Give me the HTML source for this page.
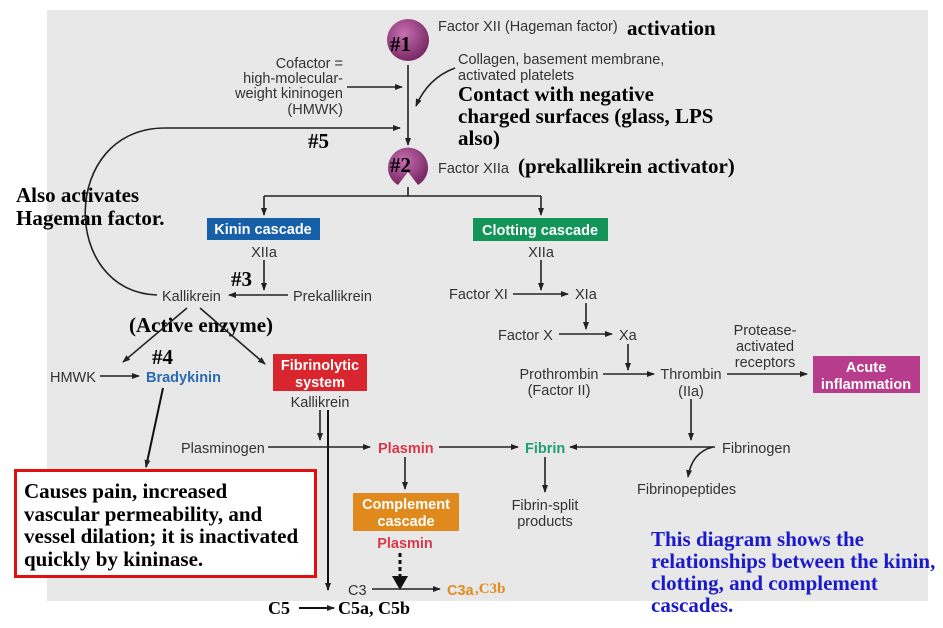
<!DOCTYPE html>
<html><head><meta charset="utf-8"><style>
html,body{margin:0;padding:0;background:#fff;}
svg{display:block;}
.s{font-family:"Liberation Sans",sans-serif;font-size:14.5px;fill:#333;}
.b{font-family:"Liberation Serif",serif;font-weight:bold;font-size:21px;fill:#000;}
.w{font-family:"Liberation Sans",sans-serif;font-weight:bold;font-size:14.5px;fill:#fff;}
.l{stroke:#222;stroke-width:1.6;fill:none;}
</style></head><body>
<svg width="943" height="628" viewBox="0 0 943 628" xmlns="http://www.w3.org/2000/svg">
<defs>
<marker id="a" markerWidth="8" markerHeight="8" refX="7" refY="4" orient="auto" markerUnits="userSpaceOnUse"><path d="M0,1 L8,4 L0,7 Z" fill="#222"/></marker>
<radialGradient id="g" cx="40%" cy="35%" r="65%"><stop offset="0" stop-color="#c76fb0"/><stop offset="1" stop-color="#7a2a66"/></radialGradient>
</defs>
<rect x="47" y="10" width="881" height="591" fill="#e8e8e8"/>
<circle cx="408" cy="40" r="21" fill="url(#g)"/>
<path d="M398,185 A20,20 0 1 1 418,185 L408,172 Z" fill="url(#g)"/>
<text x="390" y="51" class="b">#1</text>
<text x="390" y="172" class="b">#2</text>
<text x="438" y="31" class="s">Factor XII (Hageman factor)</text>
<text x="627" y="35" class="b">activation</text>
<text x="458" y="64" class="s">Collagen, basement membrane,</text>
<text x="458" y="80" class="s">activated platelets</text>
<text x="458" y="101" class="b">Contact with negative</text>
<text x="458" y="123" class="b">charged surfaces (glass, LPS</text>
<text x="458" y="145" class="b">also)</text>
<text x="438" y="173" class="s">Factor XIIa</text>
<text x="518" y="173" class="b">(prekallikrein  activator)</text>
<text x="343" y="68" class="s" text-anchor="end">Cofactor =</text>
<text x="343" y="83" class="s" text-anchor="end">high-molecular-</text>
<text x="343" y="98" class="s" text-anchor="end">weight kininogen</text>
<text x="343" y="114" class="s" text-anchor="end">(HMWK)</text>
<line x1="408" y1="65" x2="408" y2="145" class="l" marker-end="url(#a)"/>
<line x1="347" y1="87" x2="402" y2="87" class="l" marker-end="url(#a)"/>
<path d="M455,68 Q428,78 416,106" class="l" marker-end="url(#a)"/>
<path d="M157,295 C60,292 60,128 165,128 L400,128" class="l" marker-end="url(#a)"/>
<text x="308" y="148" class="b">#5</text>
<text x="16" y="202" class="b">Also activates</text>
<text x="16" y="225" class="b">Hageman factor.</text>
<path d="M408,187 L408,196 M264,196 L541,196" class="l"/>
<line x1="264" y1="196" x2="264" y2="215" class="l" marker-end="url(#a)"/>
<line x1="541" y1="196" x2="541" y2="215" class="l" marker-end="url(#a)"/>
<rect x="207" y="218" width="113" height="22" fill="#1560a8"/>
<text x="263" y="234" class="w" text-anchor="middle">Kinin cascade</text>
<rect x="473" y="218" width="135" height="23" fill="#13955a"/>
<text x="540" y="235" class="w" text-anchor="middle">Clotting cascade</text>
<text x="264" y="257" class="s" text-anchor="middle">XIIa</text>
<line x1="264" y1="260" x2="264" y2="290" class="l" marker-end="url(#a)"/>
<text x="231" y="286" class="b">#3</text>
<text x="162" y="301" class="s">Kallikrein</text>
<text x="293" y="301" class="s">Prekallikrein</text>
<line x1="288" y1="295" x2="229" y2="295" class="l" marker-end="url(#a)"/>
<text x="129" y="332" class="b">(Active enzyme)</text>
<line x1="187" y1="308" x2="123" y2="362" class="l" marker-end="url(#a)"/>
<line x1="200" y1="308" x2="265" y2="364" class="l" marker-end="url(#a)"/>
<text x="152" y="364" class="b">#4</text>
<text x="50" y="382" class="s">HMWK</text>
<line x1="100" y1="376" x2="139" y2="376" class="l" marker-end="url(#a)"/>
<text x="146" y="382" class="s" style="fill:#2a6bb0;font-weight:bold">Bradykinin</text>
<line x1="163" y1="388" x2="146" y2="467" stroke="#111" stroke-width="2" marker-end="url(#a)"/>
<rect x="15.5" y="470.5" width="300" height="106" fill="#fff" stroke="#e01010" stroke-width="3"/>
<text x="24" y="498" class="b">Causes pain, increased</text>
<text x="24" y="521" class="b">vascular permeability, and</text>
<text x="24" y="543" class="b">vessel dilation; it is inactivated</text>
<text x="24" y="566" class="b">quickly by kininase.</text>
<rect x="273" y="354" width="94" height="37" fill="#d9262e"/>
<text x="320" y="370" class="w" text-anchor="middle">Fibrinolytic</text>
<text x="320" y="387" class="w" text-anchor="middle">system</text>
<text x="320" y="407" class="s" text-anchor="middle">Kallikrein</text>
<line x1="320" y1="410" x2="320" y2="440" class="l" marker-end="url(#a)"/>
<line x1="328" y1="410" x2="328" y2="590" stroke="#111" stroke-width="2" marker-end="url(#a)"/>
<text x="181" y="453" class="s">Plasminogen</text>
<line x1="268" y1="447" x2="370" y2="447" class="l" marker-end="url(#a)"/>
<text x="378" y="453" class="s" style="fill:#d8384a;font-weight:bold">Plasmin</text>
<line x1="439" y1="447" x2="518" y2="447" class="l" marker-end="url(#a)"/>
<text x="525" y="453" class="s" style="fill:#1fa070;font-weight:bold">Fibrin</text>
<line x1="715" y1="447" x2="570" y2="447" class="l" marker-end="url(#a)"/>
<text x="722" y="453" class="s">Fibrinogen</text>
<path d="M713,447 Q692,452 688,477" class="l" marker-end="url(#a)"/>
<text x="637" y="494" class="s">Fibrinopeptides</text>
<line x1="405" y1="457" x2="405" y2="489" class="l" marker-end="url(#a)"/>
<rect x="353" y="493" width="106" height="38" fill="#e08a1e"/>
<text x="406" y="509" class="w" text-anchor="middle">Complement</text>
<text x="406" y="526" class="w" text-anchor="middle">cascade</text>
<text x="405" y="548" class="s" text-anchor="middle" style="fill:#d8384a;font-weight:bold">Plasmin</text>
<line x1="400" y1="553" x2="400" y2="578" stroke="#111" stroke-width="3" stroke-dasharray="4,3"/>
<path d="M392,576 L400,590 L408,576 Z" fill="#111"/>
<text x="348" y="595" class="s">C3</text>
<line x1="372" y1="589" x2="440" y2="589" class="l" marker-end="url(#a)"/>
<text x="447" y="595" class="s" style="fill:#e08a1e;font-weight:bold">C3a</text>
<text x="475" y="593" style="font-family:'Liberation Serif',serif;font-weight:bold;font-size:15px;fill:#e08a1e">,C3b</text>
<text x="268" y="614" class="b" style="font-size:18px">C5</text>
<line x1="299" y1="608" x2="334" y2="608" stroke="#111" stroke-width="2" marker-end="url(#a)"/>
<text x="338" y="614" class="b" style="font-size:18px">C5a, C5b</text>
<line x1="545" y1="457" x2="545" y2="492" class="l" marker-end="url(#a)"/>
<text x="545" y="510" class="s" text-anchor="middle">Fibrin-split</text>
<text x="545" y="526" class="s" text-anchor="middle">products</text>
<text x="541" y="257" class="s" text-anchor="middle">XIIa</text>
<line x1="541" y1="260" x2="541" y2="290" class="l" marker-end="url(#a)"/>
<text x="449" y="299" class="s">Factor XI</text>
<line x1="513" y1="294" x2="568" y2="294" class="l" marker-end="url(#a)"/>
<text x="575" y="299" class="s">XIa</text>
<line x1="586" y1="303" x2="586" y2="329" class="l" marker-end="url(#a)"/>
<text x="498" y="340" class="s">Factor X</text>
<line x1="559" y1="334" x2="612" y2="334" class="l" marker-end="url(#a)"/>
<text x="619" y="340" class="s">Xa</text>
<line x1="628" y1="344" x2="628" y2="370" class="l" marker-end="url(#a)"/>
<text x="559" y="379" class="s" text-anchor="middle">Prothrombin</text>
<text x="559" y="395" class="s" text-anchor="middle">(Factor II)</text>
<line x1="603" y1="374" x2="654" y2="374" class="l" marker-end="url(#a)"/>
<text x="691" y="379" class="s" text-anchor="middle">Thrombin</text>
<text x="691" y="396" class="s" text-anchor="middle">(IIa)</text>
<line x1="727" y1="374" x2="807" y2="374" class="l" marker-end="url(#a)"/>
<text x="765" y="335" class="s" text-anchor="middle">Protease-</text>
<text x="765" y="351" class="s" text-anchor="middle">activated</text>
<text x="765" y="367" class="s" text-anchor="middle">receptors</text>
<rect x="813" y="356" width="107" height="37" fill="#b83c8c"/>
<text x="866" y="372" class="w" text-anchor="middle">Acute</text>
<text x="866" y="389" class="w" text-anchor="middle">inflammation</text>
<line x1="691" y1="399" x2="691" y2="440" class="l" marker-end="url(#a)"/>
<text x="651" y="546" class="b" style="fill:#1a1acc">This diagram shows the</text>
<text x="651" y="568" class="b" style="fill:#1a1acc">relationships between the kinin,</text>
<text x="651" y="590" class="b" style="fill:#1a1acc">clotting, and complement</text>
<text x="651" y="612" class="b" style="fill:#1a1acc">cascades.</text>
</svg>
</body></html>
